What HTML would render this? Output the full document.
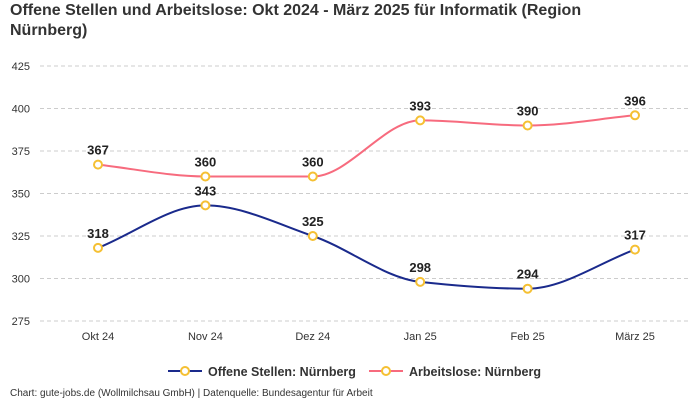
<!DOCTYPE html>
<html><head><meta charset="utf-8"><style>
body{margin:0;width:700px;height:400px;background:#fff;font-family:"Liberation Sans",sans-serif;overflow:hidden}
</style></head><body>
<svg id="c" width="700" height="400" xmlns="http://www.w3.org/2000/svg">
<text x="10" y="15" font-size="16" font-weight="bold" fill="#333">Offene Stellen und Arbeitslose: Okt 2024 - März 2025 für Informatik (Region</text>
<text x="10" y="35" font-size="16" font-weight="bold" fill="#333">Nürnberg)</text>
<g id="grid"></g><g id="series"></g>
<g>
<g>
<line x1="168" y1="371" x2="202" y2="371" stroke="#1a2a8c" stroke-width="2"/>
<circle cx="185" cy="371" r="4" fill="#fff" stroke="#f5c033" stroke-width="2"/>
<text x="208" y="376" font-size="12.5" font-weight="bold" fill="#333">Offene Stellen: Nürnberg</text></g>
<g>
<line x1="369" y1="371" x2="403" y2="371" stroke="#f76b7e" stroke-width="2"/>
<circle cx="386" cy="371" r="4" fill="#fff" stroke="#f5c033" stroke-width="2"/>
<text x="409" y="376" font-size="12.5" font-weight="bold" fill="#333">Arbeitslose: Nürnberg</text></g>
</g>
<text x="10" y="396" font-size="10" fill="#333">Chart: gute-jobs.de (Wollmilchsau GmbH) | Datenquelle: Bundesagentur für Arbeit</text>
</svg>
<script>
const categories=["Okt 24","Nov 24","Dez 24","Jan 25","Feb 25","März 25"];
const offeneStellen=[318,343,325,298,294,317];
const arbeitslose=[367,360,360,393,390,396];
const yTicks=[275,300,325,350,375,400,425];
const NS="http://www.w3.org/2000/svg";
const x=i=>98+i*(635-98)/(categories.length-1);
const y=v=>321-(v-275)*(255/150);
function mk(t,a,p){const e=document.createElementNS(NS,t);for(const k in a)e.setAttribute(k,a[k]);p.appendChild(e);return e;}
const grid=document.getElementById('grid'),ser=document.getElementById('series');
yTicks.forEach(v=>{
 const l=mk('line',{x1:40,x2:690,y1:y(v),y2:y(v),stroke:'#ccc','stroke-dasharray':'4,3'},grid);
 
 
 const t=mk('text',{x:30,y:y(v)+4,'font-size':11,fill:'#333','text-anchor':'end'},grid);t.textContent=v;
 
 
});
categories.forEach((c,i)=>{
 const t=mk('text',{x:x(i),y:340,'font-size':11,fill:'#333','text-anchor':'middle'},grid);t.textContent=c;
 
 
});
function monotone(pts){
 const n=pts.length,dx=[],m=[],s=[];
 for(let i=0;i<n-1;i++){dx[i]=pts[i+1][0]-pts[i][0];s[i]=(pts[i+1][1]-pts[i][1])/dx[i];}
 m[0]=s[0];m[n-1]=s[n-2];
 for(let i=1;i<n-1;i++){m[i]=(s[i-1]*s[i]<=0)?0:(3*(dx[i-1]+dx[i]))/((2*dx[i]+dx[i-1])/s[i-1]+(dx[i]+2*dx[i-1])/s[i]);}
 let d='M'+pts[0][0]+','+pts[0][1];
 for(let i=0;i<n-1;i++){const h=dx[i]/3;d+=` C${pts[i][0]+h},${pts[i][1]+m[i]*h} ${pts[i+1][0]-h},${pts[i+1][1]-m[i+1]*h} ${pts[i+1][0]},${pts[i+1][1]}`;}
 return d;
}
function draw(vals,color,name){
 const pts=vals.map((v,i)=>[x(i),y(v)]);
 const p=mk('path',{d:monotone(pts),fill:'none',stroke:color,'stroke-width':2},ser);
 
 
 vals.forEach((v,i)=>{
  const c=mk('circle',{cx:x(i),cy:y(v),r:4,fill:'#fff',stroke:'#f5c033','stroke-width':2},ser);
  
  
  const t=mk('text',{x:x(i),y:y(v)-10,'font-size':13,'font-weight':'bold',fill:'#222','text-anchor':'middle'},ser);t.textContent=v;
  
  
 });
}
draw(offeneStellen,'#1a2a8c','offene-stellen');
draw(arbeitslose,'#f76b7e','arbeitslose');
</script>
</body></html>
